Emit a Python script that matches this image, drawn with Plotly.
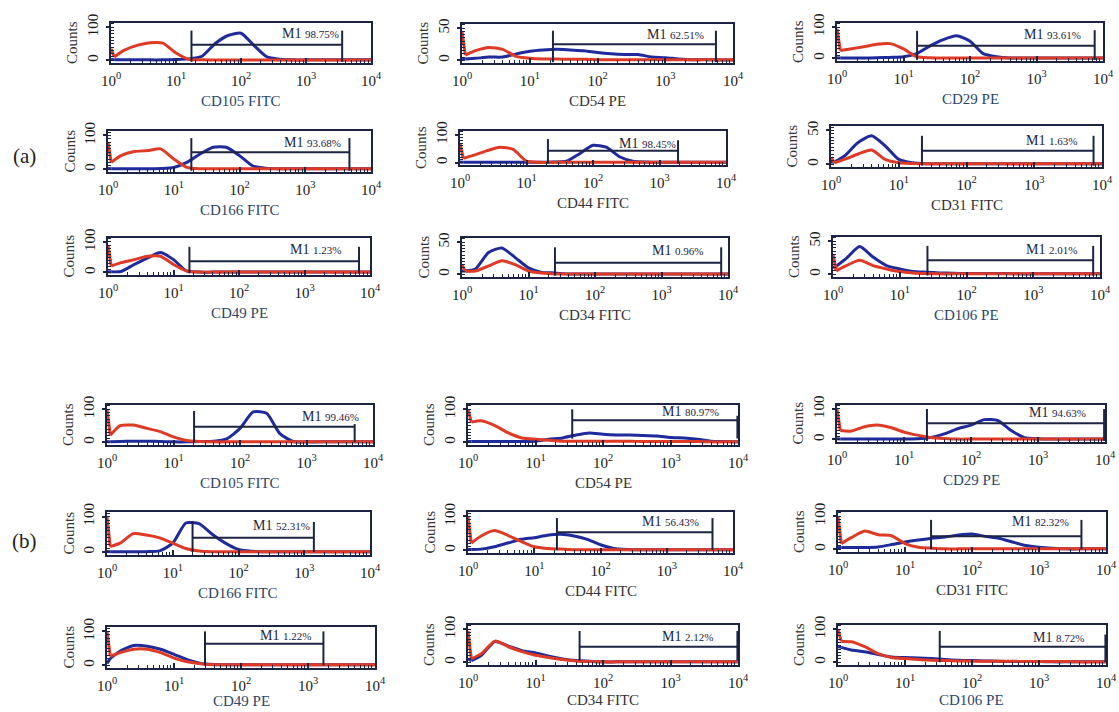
import math
import plotly.graph_objects as go

# ---------------------------------------------------------------- data
# fluorescence channels (log scale, 10^0 .. 10^4)
X_CHANNELS = [1.0, 1.12, 1.58, 2.51, 3.98, 6.31, 10.0, 15.8, 25.1, 39.8, 63.1,
              100, 158, 251, 398, 631, 1000, 1585, 2512, 3981, 6310, 10000]
X_TICK_VALUES = [1, 10, 100, 1000, 10000]
X_TICK_LABELS = ["10<sup>0</sup>", "10<sup>1</sup>", "10<sup>2</sup>",
                 "10<sup>3</sup>", "10<sup>4</sup>"]

MARKERS_A = ["CD105 FITC", "CD54 PE", "CD29 PE", "CD166 FITC", "CD44 FITC",
             "CD31 FITC", "CD49 PE", "CD34 FITC", "CD106 PE"]
MARKERS_B = ["CD105 FITC", "CD54 PE", "CD29 PE", "CD166 FITC", "CD44 FITC",
             "CD31 FITC", "CD49 PE", "CD34 FITC", "CD106 PE"]
Y_MAX_A = [100, 50, 100, 100, 100, 50, 100, 50, 50]
Y_MAX_B = [100, 100, 100, 100, 100, 100, 100, 100, 100]

# group (a): red = isotype control, blue = antibody
A_CD105_RED = [35, 10, 30, 45, 53, 52, 22, 3, 1, 0.5, 0.5, 0.5, 0.5, 0.5, 0.5, 0.5, 0.5, 0.5, 0.5, 0.5, 0.5, 0.5]
A_CD105_BLUE = [3, 1, 1, 1, 1, 1, 2, 4, 12, 50, 75, 82, 45, 10, 3, 1, 1, 1, 1, 1, 1, 1]
A_CD54_RED = [45, 8, 15, 20, 17, 6, 3, 2, 2, 1.5, 1.5, 1, 1, 1, 1, 1, 1, 1, 1, 1, 1, 1]
A_CD54_BLUE = [3, 2, 3, 5, 5, 10, 14, 16, 17, 16, 15, 12, 10, 9, 9, 5, 4, 2, 1, 1, 0.5, 0.5]
A_CD29_RED = [95, 25, 30, 37, 45, 47, 30, 5, 2, 1, 1, 1, 1, 1, 1, 1, 1, 1, 1, 1, 1, 1]
A_CD29_BLUE = [2, 1, 1, 1, 2, 3, 5, 15, 40, 60, 72, 55, 15, 5, 1, 1, 1, 1, 1, 1, 1, 1]
A_CD166_RED = [80, 20, 40, 52, 55, 60, 30, 5, 1, 1, 1, 1, 1, 1, 1, 1, 1, 1, 1, 1, 1, 1]
A_CD166_BLUE = [2, 1, 1, 1, 1, 2, 5, 20, 45, 65, 65, 40, 10, 3, 1, 1, 1, 1, 1, 1, 1, 1]
A_CD44_RED = [70, 15, 26, 42, 55, 47, 5, 1, 1, 1, 1, 1, 1, 1, 1, 1, 1, 1, 1, 1, 1, 1]
A_CD44_BLUE = [2, 1, 1, 1, 1, 1, 1, 1, 2, 5, 32, 62, 55, 21, 5, 2, 1, 1, 1, 1, 1, 1]
A_CD31_RED = [10, 2, 7, 15, 21, 7, 2, 1, 0.5, 0.5, 0.5, 0.5, 0.5, 0.5, 0.5, 0.5, 0.5, 0.5, 0.5, 0.5, 0.5, 0.5]
A_CD31_BLUE = [3, 3, 12, 32, 42, 27, 7, 2, 0.5, 0.5, 0.5, 0.5, 0.5, 0.5, 0.5, 0.5, 0.5, 0.5, 0.5, 0.5, 0.5, 0.5]
A_CD49_RED = [90, 21, 32, 42, 53, 53, 26, 5, 1, 1, 1, 1, 1, 1, 1, 1, 1, 1, 1, 1, 1, 1]
A_CD49_BLUE = [2, 2, 3, 26, 47, 65, 42, 5, 1, 1, 1, 1, 1, 1, 1, 1, 1, 1, 1, 1, 1, 1]
A_CD34_RED = [15, 5, 5, 13, 21, 15, 5, 2, 0.5, 0.5, 0.5, 0.5, 0.5, 0.5, 0.5, 0.5, 0.5, 0.5, 0.5, 0.5, 0.5, 0.5]
A_CD34_BLUE = [5, 5, 8, 34, 41, 26, 10, 3, 2, 0.5, 0.5, 0.5, 0.5, 0.5, 0.5, 0.5, 0.5, 0.5, 0.5, 0.5, 0.5, 0.5]
A_CD106_RED = [30, 5, 13, 21, 13, 8, 4, 2, 1, 0.5, 0.5, 0.5, 0.5, 0.5, 0.5, 0.5, 0.5, 0.5, 0.5, 0.5, 0.5, 0.5]
A_CD106_BLUE = [10, 12, 24, 42, 26, 13, 8, 4, 3, 2, 1.5, 1, 1, 1, 1, 0.5, 0.5, 0.5, 0.5, 0.5, 0.5, 0.5]

# group (b)
B_CD105_RED = [100, 21, 50, 52, 42, 32, 16, 5, 2, 1, 1, 1, 1, 1, 1, 1, 1, 1, 1, 1, 1, 1]
B_CD105_BLUE = [2, 1, 2, 3, 3, 2, 1, 1, 2, 3, 10, 42, 92, 88, 26, 2, 1, 1, 1, 1, 1, 1]
B_CD54_RED = [100, 61, 65, 50, 28, 13, 9, 6, 3, 3, 3, 3, 3, 3, 2, 2, 2, 2, 2, 1, 1, 1]
B_CD54_BLUE = [2, 2, 2, 2, 2, 2, 3, 9, 13, 22, 28, 24, 22, 22, 20, 19, 14, 13, 9, 3, 2, 1]
B_CD29_RED = [100, 29, 27, 41, 47, 39, 24, 14, 6, 3, 1, 1, 1, 1, 1, 1, 1, 1, 1, 1, 1, 1]
B_CD29_BLUE = [2, 1, 1, 1, 1, 1, 1, 2, 6, 18, 35, 47, 65, 62, 29, 6, 2, 1, 1, 1, 1, 1]
B_CD166_RED = [100, 15, 25, 52, 48, 40, 25, 10, 3, 1, 1, 1, 1, 1, 1, 1, 1, 1, 1, 1, 1, 1]
B_CD166_BLUE = [1, 1, 1, 1, 1, 3, 25, 82, 80, 50, 25, 7, 2, 1, 1, 1, 1, 1, 1, 1, 1, 1]
B_CD44_RED = [100, 21, 42, 58, 44, 26, 10, 5, 3, 1, 1, 1, 1, 1, 1, 1, 1, 1, 1, 1, 1, 1]
B_CD44_BLUE = [2, 2, 3, 10, 21, 32, 37, 44, 47, 42, 32, 16, 5, 2, 1, 1, 1, 1, 1, 1, 1, 1]
B_CD31_RED = [100, 17, 35, 55, 44, 41, 17, 6, 3, 1, 1, 1, 1, 1, 1, 1, 1, 1, 1, 1, 1, 1]
B_CD31_BLUE = [5, 5, 5, 5, 7, 14, 22, 28, 33, 37, 43, 46, 39, 33, 22, 11, 6, 3, 1, 1, 1, 1]
B_CD49_RED = [100, 26, 37, 47, 47, 37, 21, 10, 4, 1, 1, 1, 1, 1, 1, 1, 1, 1, 1, 1, 1, 1]
B_CD49_BLUE = [5, 20, 42, 58, 56, 47, 32, 16, 5, 2, 1, 1, 1, 1, 1, 1, 1, 1, 1, 1, 1, 1]
B_CD34_RED = [95, 10, 26, 64, 47, 32, 21, 14, 8, 4, 2, 1, 1, 1, 1, 1, 1, 1, 1, 1, 1, 1]
B_CD34_BLUE = [10, 5, 21, 63, 49, 35, 28, 18, 10, 5, 3, 1, 1, 1, 1, 1, 1, 1, 1, 1, 1, 1]
B_CD106_RED = [100, 63, 62, 47, 26, 14, 11, 8, 6, 5, 4, 3, 3, 3, 3, 2, 2, 2, 2, 1, 1, 1]
B_CD106_BLUE = [47, 45, 37, 32, 23, 16, 14, 13, 11, 8, 6, 5, 4, 3, 2, 2, 2, 1, 1, 1, 1, 1]

RED_A = [A_CD105_RED, A_CD54_RED, A_CD29_RED, A_CD166_RED, A_CD44_RED,
         A_CD31_RED, A_CD49_RED, A_CD34_RED, A_CD106_RED]
BLUE_A = [A_CD105_BLUE, A_CD54_BLUE, A_CD29_BLUE, A_CD166_BLUE, A_CD44_BLUE,
          A_CD31_BLUE, A_CD49_BLUE, A_CD34_BLUE, A_CD106_BLUE]
RED_B = [B_CD105_RED, B_CD54_RED, B_CD29_RED, B_CD166_RED, B_CD44_RED,
         B_CD31_RED, B_CD49_RED, B_CD34_RED, B_CD106_RED]
BLUE_B = [B_CD105_BLUE, B_CD54_BLUE, B_CD29_BLUE, B_CD166_BLUE, B_CD44_BLUE,
          B_CD31_BLUE, B_CD49_BLUE, B_CD34_BLUE, B_CD106_BLUE]

# M1 gate (marker region) for each histogram
M1_PCT_A = ["98.75%", "62.51%", "93.61%", "93.68%", "98.45%", "1.63%", "1.23%", "0.96%", "2.01%"]
M1_PCT_B = ["99.46%", "80.97%", "94.63%", "52.31%", "56.43%", "82.32%", "1.22%", "2.12%", "8.72%"]
M1_LEFT_A = [17.3, 22, 16, 18.5, 21, 22, 17.5, 25, 26]
M1_RIGHT_A = [3600, 5600, 7500, 4700, 1900, 7500, 6800, 7900, 7900]
M1_LEVEL_A = [47, 25, 40, 50, 42, 20, 37, 18, 21]
M1_TOP_A = [90, 46, 88, 92, 84, 42, 84, 42, 43]
M1_TOP_RIGHT_A = [90, 46, 90, 92, 80, 42, 84, 42, 43]
M1_BOTTOM_A = [-5, -3, -5, -5, -3, -2, -3, -2, -2]
M1_TEXT_X_A = [3400, 4000, 5000, 3700, 1900, 4600, 3900, 4500, 4900]
M1_TEXT_Y_A = [80, 40, 75, 80, 68, 35, 74, 37, 37]

M1_LEFT_B = [20.4, 35, 22, 20, 22, 24.5, 29, 45, 33]
M1_RIGHT_B = [5300, 9800, 9700, 1400, 4900, 4300, 1700, 9800, 9800]
M1_LEVEL_B = [47, 67, 53, 40, 53, 39, 63, 47, 47]
M1_TOP_B = [95, 100, 100, 85, 95, 89, 100, 95, 95]
M1_TOP_RIGHT_B = [55, 80, 100, 85, 95, 89, 100, 95, 84]
M1_BOTTOM_B = [0, 11, -5, 0, 0, 0, 0, 5, 0]
M1_TEXT_X_B = [6700, 5600, 5600, 1300, 3300, 3000, 1200, 4500, 5000]
M1_TEXT_Y_B = [79, 94, 88, 75, 84, 83, 89, 79, 74]

GROUP_LABELS = ["(a)", "(b)"]

# ---------------------------------------------------------------- style / layout
W, H = 1119, 712
# plot-area boxes in pixels: (left, right, top, bottom)
PANEL_BOXES = [
    (111, 371, 23, 63), (462, 733, 24, 63), (837, 1103, 23, 61),
    (108, 371, 131, 172), (460, 726, 131, 165), (831, 1102, 126, 167),
    (108, 370, 238, 275), (462, 728, 238, 277), (833, 1100, 237, 277),
    (107, 373, 405, 445), (468, 738, 405, 445), (837, 1105, 405, 442),
    (107, 370, 512, 555), (468, 733, 512, 553), (838, 1106, 512, 552),
    (107, 375, 627, 668), (468, 738, 625, 665), (838, 1106, 625, 665),
]
# distance (px) from the plot bottom to the centre of the x-axis title
XTITLE_OFFSETS = [38, 38, 38, 38, 38, 38, 38, 38, 38,
                  38, 38, 38, 38, 38, 38, 33, 35, 35]
GROUP_LABEL_POS = [(24, 156), (24, 541)]
LABEL_COLORS = ["#2c4668", "#333333", "#2c4668", "#2c4668", "#333333", "#333333",
                "#2c4668", "#333333", "#2c4668"]
RED = "#de3a26"
BLUE = "#1f2b9c"
FRAME = "#1c2442"
FONT = "Liberation Serif"

fig = go.Figure()
annotations = []
layout_axes = {}

groups = [
    (MARKERS_A, Y_MAX_A, RED_A, BLUE_A, M1_PCT_A, M1_LEFT_A, M1_RIGHT_A, M1_LEVEL_A,
     M1_TOP_A, M1_TOP_RIGHT_A, M1_BOTTOM_A, M1_TEXT_X_A, M1_TEXT_Y_A),
    (MARKERS_B, Y_MAX_B, RED_B, BLUE_B, M1_PCT_B, M1_LEFT_B, M1_RIGHT_B, M1_LEVEL_B,
     M1_TOP_B, M1_TOP_RIGHT_B, M1_BOTTOM_B, M1_TEXT_X_B, M1_TEXT_Y_B),
]

x_minor = [m * 10 ** d for d in range(4) for m in range(2, 10)]


def add_curve(vals, color, xa, ya):
    # smooth histogram body
    fig.add_trace(go.Scatter(x=X_CHANNELS[1:], y=vals[1:], xaxis=xa, yaxis=ya,
                             mode="lines",
                             line=dict(color=color, width=3, shape="spline", smoothing=0.6),
                             showlegend=False, hoverinfo="skip"))
    # first-channel spike
    fig.add_trace(go.Scatter(x=X_CHANNELS[:2], y=vals[:2], xaxis=xa, yaxis=ya,
                             mode="lines", line=dict(color=color, width=3),
                             showlegend=False, hoverinfo="skip"))


n = 0
for g, grp in enumerate(groups):
    (markers, ymaxs, reds, blues, pcts, lefts, rights, levels, tops, tops_r,
     bottoms, text_xs, text_ys) = grp
    for i in range(9):
        k = n + 1
        xa = "x" if k == 1 else f"x{k}"
        ya = "y" if k == 1 else f"y{k}"
        l, r, t, b = PANEL_BOXES[n]
        xdom = [l / W, r / W]
        ydom = [1 - b / H, 1 - t / H]
        ymax = ymaxs[i]

        add_curve(blues[i], BLUE, xa, ya)
        add_curve(reds[i], RED, xa, ya)
        # M1 gate bracket
        mx = [lefts[i], lefts[i], None, lefts[i], rights[i], None, rights[i], rights[i]]
        my = [bottoms[i], tops[i], None, levels[i], levels[i], None, bottoms[i], tops_r[i]]
        fig.add_trace(go.Scatter(x=mx, y=my, xaxis=xa, yaxis=ya, mode="lines",
                                 line=dict(color=FRAME, width=2), showlegend=False,
                                 hoverinfo="skip"))

        xkey = "xaxis" if k == 1 else f"xaxis{k}"
        ykey = "yaxis" if k == 1 else f"yaxis{k}"
        layout_axes[xkey] = dict(
            domain=xdom, anchor=ya, type="log", range=[0, 4], automargin=False,
            tickmode="array", tickvals=X_TICK_VALUES, ticktext=X_TICK_LABELS,
            ticks="inside", ticklen=5, tickwidth=1.5, tickcolor=FRAME,
            minor=dict(tickmode="array", tickvals=x_minor, ticks="inside",
                       ticklen=3, tickwidth=1.2, tickcolor=FRAME, showgrid=False),
            showline=True, linecolor=FRAME, linewidth=1.5, mirror=True,
            showgrid=False, zeroline=False, ticklabelstandoff=3,
            tickfont=dict(family=FONT, size=15, color="#1a1a1a"),
        )
        layout_axes[ykey] = dict(
            domain=ydom, anchor=xa, range=[-0.085 * ymax, 1.13 * ymax], automargin=False,
            tickmode="array", tickvals=[0, ymax], ticktext=[str(0), str(ymax)],
            tickangle=-90, ticks="outside", ticklen=3, tickwidth=1.5, tickcolor=FRAME,
            minor=dict(dtick=ymax / 10, ticks="inside", ticklen=3, tickwidth=1.2,
                       tickcolor=FRAME, showgrid=False),
            showline=True, linecolor=FRAME, linewidth=1.5, mirror=True,
            showgrid=False, zeroline=False, ticklabelstandoff=2,
            tickfont=dict(family=FONT, size=15, color="#1a1a1a"),
        )

        # x-axis title
        annotations.append(dict(
            text=markers[i], xref="paper", yref="paper",
            x=(xdom[0] + xdom[1]) / 2, y=ydom[0], yshift=-XTITLE_OFFSETS[n],
            xanchor="center", yanchor="middle", showarrow=False,
            font=dict(family=FONT, size=15, color=LABEL_COLORS[i])))
        # y-axis title
        annotations.append(dict(
            text="Counts", xref="paper", yref="paper",
            x=xdom[0], xshift=-39, y=(ydom[0] + ydom[1]) / 2,
            textangle=-90, xanchor="center", yanchor="middle", showarrow=False,
            font=dict(family=FONT, size=15, color="#333333")))
        # M1 label
        annotations.append(dict(
            text="M1 <span style='font-size:11px'>" + pcts[i] + "</span>",
            xref=xa, yref=ya, x=math.log10(text_xs[i]), y=text_ys[i],
            xanchor="right", yanchor="middle", showarrow=False,
            font=dict(family=FONT, size=14, color="#1c2442")))
        n += 1

for lab, (px, py) in zip(GROUP_LABELS, GROUP_LABEL_POS):
    annotations.append(dict(text=lab, xref="paper", yref="paper", x=px / W, y=1 - py / H,
                            xanchor="center", yanchor="middle", showarrow=False,
                            font=dict(family=FONT, size=21, color="#222222")))

fig.update_layout(
    width=W, height=H, autosize=False,
    margin=dict(l=0, r=0, t=0, b=0, pad=0, autoexpand=False),
    paper_bgcolor="white", plot_bgcolor="white",
    showlegend=False, hovermode=False,
    annotations=annotations,
    **layout_axes,
)

fig.write_html(
    "out.html",
    config={"displayModeBar": False},
    post_script="document.body.style.margin='0';document.body.style.padding='0';"
                "document.body.style.overflow='hidden';",
)
